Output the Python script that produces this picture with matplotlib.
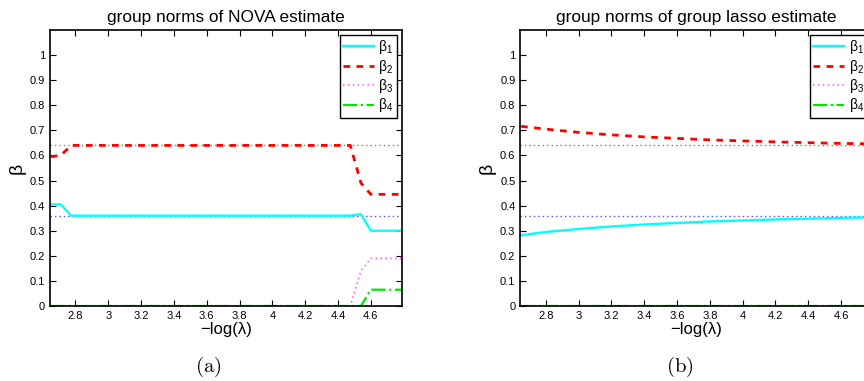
import matplotlib
matplotlib.use('Agg')
import matplotlib.pyplot as plt
from matplotlib.ticker import FuncFormatter

# NOVA estimate path (left panel)
x_nova = [2.65, 2.71, 2.775, 4.475, 4.54, 4.60, 4.79]
nova_b1 = [0.405, 0.405, 0.36, 0.36, 0.366, 0.30, 0.30]
nova_b2 = [0.595, 0.60, 0.64, 0.64, 0.49, 0.445, 0.445]
nova_b3 = [0.0, 0.0, 0.0, 0.0, 0.14, 0.19, 0.19]
nova_b4 = [0.0, 0.0, 0.0, 0.0, 0.0, 0.065, 0.065]

# group lasso estimate path (right panel)
x_gl = [2.65, 2.8, 3.0, 3.2, 3.4, 3.6, 3.8, 4.0, 4.2, 4.4, 4.6, 4.8]
gl_b1 = [0.282, 0.295, 0.307, 0.317, 0.325, 0.331, 0.337, 0.341, 0.345, 0.348, 0.351, 0.354]
gl_b2 = [0.716, 0.705, 0.692, 0.682, 0.674, 0.668, 0.662, 0.658, 0.654, 0.651, 0.648, 0.646]
gl_b3 = [0.0] * len(x_gl)
gl_b4 = [0.0] * len(x_gl)

# true group norms
true_vals = [0.64, 0.36, 0.0]
true_cols = [(0.3, 0.65, 0.3), (0.3, 0.3, 1.0), 'black']

xlim = (2.645, 4.79)
xticks = [2.8, 3, 3.2, 3.4, 3.6, 3.8, 4, 4.2, 4.4, 4.6]
yticks = [0, 0.1, 0.2, 0.3, 0.4, 0.5, 0.6, 0.7, 0.8, 0.9, 1]
labels = ['\u03b2$_1$', '\u03b2$_2$', '\u03b2$_3$', '\u03b2$_4$']

plt.rcParams['font.family'] = ['Liberation Sans', 'DejaVu Sans']
plt.rcParams['mathtext.fontset'] = 'custom'
plt.rcParams['mathtext.rm'] = 'Liberation Sans'
plt.rcParams['mathtext.it'] = 'Liberation Sans'

fig = plt.figure(figsize=(8.64, 3.81), dpi=100)
W, H = 864.0, 381.0


def panel(left, x, b1, b2, b3, b4, title, tag, tag_x):
    ax = fig.add_axes([left / W, 75 / H, 352 / W, 276 / H])
    for v, c in zip(true_vals, true_cols):
        ax.plot([xlim[0], xlim[1] + 0.2], [v, v], color=c, lw=1.0,
                linestyle=(0, (1, 2.2)))
    ax.plot(x, b1, '-', color='cyan', lw=1.7, label=labels[0])
    ax.plot(x, b2, '--', color='red', lw=2.0, dashes=(2.4, 2.3), label=labels[1])
    ax.plot(x, b3, color=(1, 0.3, 1), lw=1.1, linestyle=(0, (1, 2.2)), label=labels[2])
    ax.plot(x, b4, '-.', color=(0, 0.9, 0), lw=1.6, label=labels[3])
    ax.set_xlim(*xlim)
    ax.set_ylim(0, 1.1)
    ax.set_xticks(xticks)
    ax.set_yticks(yticks)
    ax.xaxis.set_major_formatter(FuncFormatter(lambda v, p: '%g' % v))
    ax.yaxis.set_major_formatter(FuncFormatter(lambda v, p: '%g' % v))
    ax.tick_params(direction='in', top=True, right=True, labelsize=8, length=4, width=0.8)
    for s in ax.spines.values():
        s.set_linewidth(1.2)
    ax.set_title(title, fontsize=12.4, pad=6)
    ax.set_xlabel('\u2212log(\u03bb)', fontsize=12, labelpad=1)
    ax.set_ylabel('\u03b2', fontsize=14, labelpad=3)
    leg = ax.legend(loc='upper right', fontsize=10, fancybox=False, edgecolor='black',
                    framealpha=1, handlelength=2.2, labelspacing=0.1, borderaxespad=0.35,
                    handletextpad=0.35, borderpad=0.25)
    leg.get_frame().set_linewidth(1.0)
    fig.text(tag_x / W, 1 - 367 / H, tag, ha='center', va='center', fontsize=15,
             math_fontfamily='cm')
    return ax


panel(50, x_nova, nova_b1, nova_b2, nova_b3, nova_b4,
      'group norms of NOVA estimate', r'$\mathrm{(a)}$', 208)
panel(520.3, x_gl, gl_b1, gl_b2, gl_b3, gl_b4,
      'group norms of group lasso estimate', r'$\mathrm{(b)}$', 680)

fig.savefig('out.png', dpi=100)
